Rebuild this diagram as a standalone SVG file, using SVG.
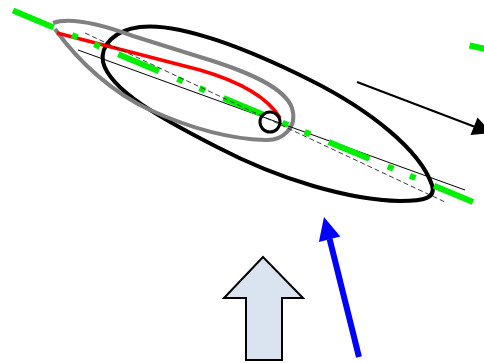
<svg xmlns="http://www.w3.org/2000/svg" width="484" height="363" viewBox="0 0 484 363">
<style>
.thick{fill:none;stroke-linecap:butt;stroke-linejoin:round}
.green{stroke:#00ee00;stroke-width:6;fill:none}
</style>
<rect width="484" height="363" fill="#ffffff"/>
<g id="shapes">
<g id="big-loop"><path class="thick" d="M140,27 C180,22 250,50 310,80 C370,110 420,150 432,185 C436,198 425,201 400,201 C350,200 280,180 217,147 C160,118 110,90 103,62 C100,45 115,30 140,27 Z" stroke="#000" stroke-width="4"/></g>
<g id="gray-loop"><path class="thick" d="M53,23 C70,17 100,24 133,36 L200,57 C250,72 285,88 292,108 C298,128 282,141 265,140 C230,139 190,128 150,110 C115,94 80,64 55,29" stroke="#808080" stroke-width="4"/></g>
<g id="red-curve"><path class="thick" d="M57,33 L200,70 Q262,88 280,118" stroke="#ff0000" stroke-width="3.5"/></g>
<g id="thin-line"><line x1="78" y1="50" x2="465" y2="190" stroke="#000" stroke-width="1"/></g>
<g id="green-line"><line x1="13" y1="10.5" x2="473" y2="202" class="green" stroke-dasharray="44 20 6 18 6 20"/>
<line x1="469.5" y1="45.5" x2="486" y2="49" class="green"/></g>
<g id="dashed-line"><line x1="85" y1="33" x2="445" y2="202" stroke="#222" stroke-width="0.9" stroke-dasharray="5 3"/></g>
<g id="small-circle"><circle cx="270" cy="122" r="10" fill="none" stroke="#000" stroke-width="3"/></g>
</g>
<g id="connectors">
<g id="black-arrow"><line x1="357" y1="82" x2="474" y2="126.5" stroke="#000" stroke-width="2"/>
<polygon points="492,133 470.5,135 477.5,117.5" fill="#000"/></g>
<g id="blue-arrow"><line x1="359" y1="357" x2="329.6" y2="239" stroke="#0000ff" stroke-width="6"/>
<polygon points="324,217 340.3,236.6 318.9,242" fill="#0000ff"/></g>
</g>
<g id="block-arrow"><polygon points="263,257 303,298 282,298 282,360 246,360 246,298 224,298" fill="#dae3f0" stroke="#000" stroke-width="2" stroke-linejoin="miter"/></g>
</svg>
